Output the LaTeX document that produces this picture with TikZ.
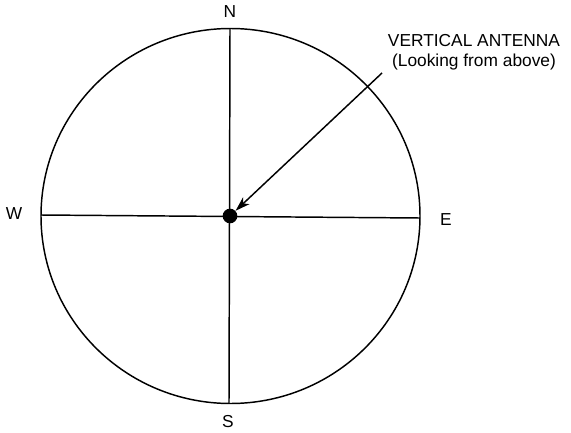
\documentclass[tikz,border=0pt]{standalone}
\usepackage{fontspec}
\setmainfont{Liberation Sans}
\usetikzlibrary{arrows.meta}
\begin{document}
\begin{tikzpicture}[x=0.75pt,y=-0.75pt,
  ln/.style={line width=1.1pt, black},
  lbl/.style={font=\fontsize{13}{15}\selectfont, inner sep=0pt},
  antdot/.style={circle, fill=black, minimum size=11pt, inner sep=0pt}]
\useasboundingbox (0,0) rectangle (571,432);
\draw[ln] (230.5,216) ellipse [x radius=189.5, y radius=187.5];
\coordinate (top) at (230,28.5);
\coordinate (bot) at (229,403.5);
\coordinate (lft) at (41,215);
\coordinate (rgt) at (420,218);
\draw[ln] (top) -- (bot);
\draw[ln] (lft) -- (rgt);
\node[antdot] (ant) at (230,216) {};
\node[lbl] (n) at (230,12) {N};
\node[lbl] (s) at (228,422) {S};
\node[lbl] (w) at (14,214) {W};
\node[lbl] (e) at (446,220) {E};
\node[lbl, align=center] (cap) at (474,52) {VERTICAL ANTENNA\\[0pt](Looking from above)};
\coordinate (astart) at (382,73);
\draw[ln, -{Stealth[length=11pt, width=7pt, inset=3pt]}] (astart) -- (ant);
\end{tikzpicture}
\end{document}
